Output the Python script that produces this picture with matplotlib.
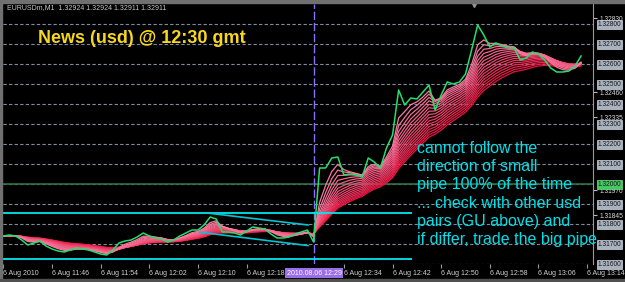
import numpy as np
import pandas as pd
import matplotlib
matplotlib.use("Agg")
import matplotlib.pyplot as plt
from matplotlib.colors import to_rgb
from matplotlib.transforms import blended_transform_factory

# EURUSD M1, минуты от 11:38 (6 Aug 2010), цена закрытия (зелёная линия)
price = [
    1.31740, 1.31745, 1.31740, 1.31720, 1.31695, 1.31705, 1.31715, 1.31690,
    1.31675, 1.31665, 1.31660, 1.31670, 1.31680, 1.31675, 1.31670, 1.31660,
    1.31650, 1.31645, 1.31670, 1.31705, 1.31715, 1.31720, 1.31735, 1.31755,
    1.31740, 1.31730, 1.31725, 1.31710, 1.31720, 1.31740, 1.31755, 1.31770,
    1.31770, 1.31795, 1.31835, 1.31825, 1.31760, 1.31760, 1.31755, 1.31745,
    1.31765, 1.31785, 1.31780, 1.31775, 1.31750, 1.31730, 1.31730, 1.31735,
    1.31750, 1.31760, 1.31770, 1.31710, 1.32080, 1.32080, 1.32130, 1.32135,
    1.32045, 1.32050, 1.32045, 1.32035, 1.32130, 1.32110, 1.32080, 1.32180,
    1.32245, 1.32470, 1.32395, 1.32430, 1.32425, 1.32460, 1.32495, 1.32370,
    1.32445, 1.32510, 1.32500, 1.32510, 1.32550, 1.32670, 1.32795, 1.32745,
    1.32685, 1.32705, 1.32690, 1.32680, 1.32680, 1.32620, 1.32630, 1.32660,
    1.32650, 1.32620, 1.32580, 1.32560, 1.32560, 1.32565, 1.32590, 1.32640,
]
minutes = np.arange(len(price))

# периоды веера скользящих средних
ema_periods = [3, 4, 5, 6, 7, 8, 9, 10, 11, 12, 13, 14, 15, 16, 17, 18]

grid_levels = [1.32800, 1.32700, 1.32600, 1.32500, 1.32400, 1.32300, 1.32200,
               1.32100, 1.32000, 1.31900, 1.31800, 1.31700, 1.31600]
green_level = 1.32000
# видимые (не закрытые плашками) деления шкалы
scale_ticks = [1.32830, 1.32460, 1.32335, 1.31970, 1.31845]

time_ticks = [0, 8, 16, 24, 32, 40, 56, 64, 72, 80, 88, 96]
time_labels = ["6 Aug 2010", "6 Aug 11:46", "6 Aug 11:54", "6 Aug 12:02",
               "6 Aug 12:10", "6 Aug 12:18", "6 Aug 12:34", "6 Aug 12:42",
               "6 Aug 12:50", "6 Aug 12:58", "6 Aug 13:06", "6 Aug 13:14"]
news_minute = 51
news_label = "2010.08.06 12:29"
shift_minute = 77.4

# горизонтальные и наклонные линии (cyan)
support_levels = [1.31855, 1.31625]
support_end = 67.2
trend_lines = [(34.0, 1.31853, 50.1, 1.31795), (32.3, 1.31759, 50.1, 1.31692)]

header = "EURUSDm,M1  1.32924 1.32924 1.32911 1.32911"
title = "News (usd) @ 12:30 gmt"
note_lines = ["cannot follow the", "direction of small", "pipe 100% of the time",
              "... check with other usd", "pairs (GU above) and",
              "if differ, trade the big pipe"]

W, H = 625, 282
fig = plt.figure(figsize=(W / 100, H / 100), dpi=100, facecolor="black")
ax = fig.add_axes([3 / W, 18 / H, 590 / W, 260 / H], facecolor="black")
ax.set_xlim(-0.07, 96.97)
ax.set_ylim(1.31600, 1.32900)

for s in ["top", "left", "bottom"]:
    ax.spines[s].set_visible(False)
ax.spines["right"].set_color("#9a9a9a")

# сетка
ax.hlines(grid_levels, -0.07, 96.97, colors="#7f8ca0", linewidth=0.8,
          linestyles=(0, (3, 2)), zorder=1)
ax.axhline(green_level, color="#2d7045", linewidth=1.2, zorder=1.5)

# вертикальная линия новости
ax.axvline(news_minute, color="#8a70ff", linewidth=1, dashes=(6, 2), zorder=2)

# веер EMA
c_fast = np.array(to_rgb("#f77aa0"))
c_slow = np.array(to_rgb("#e8123e"))
s = pd.Series(price)
for i, p in reversed(list(enumerate(ema_periods))):
    t = i / (len(ema_periods) - 1)
    col = c_fast * (1 - t) + c_slow * t
    ax.plot(minutes, s.ewm(span=p, adjust=False).mean(), color=col,
            linewidth=0.9, zorder=3 + (len(ema_periods) - i) * 0.01)

# цена
ax.plot(minutes, price, color="#22e06a", linewidth=1.1, zorder=6)

# линии поддержки / тренда
for lvl in support_levels:
    ax.hlines(lvl, -0.07, support_end, colors="#00e6f0", linewidth=1.3, zorder=5)
for x0, y0, x1, y1 in trend_lines:
    ax.plot([x0, x1], [y0, y1], color="#00c4d0", linewidth=1.2, zorder=5)

ax.plot(shift_minute, 1.32900, marker="v", color="#8c96a4", markersize=5,
        clip_on=False, zorder=7)

# ось времени
ax.set_xticks(time_ticks)
ax.set_xticklabels(time_labels, ha="left", fontsize=5, color="#d0d0d0",
                   family="Liberation Sans")
ax.tick_params(axis="x", direction="out", length=3, width=0.8, color="#9a9a9a", pad=1)
trans_x = blended_transform_factory(ax.transData, ax.transAxes)
ax.text(news_minute + 0.1, -0.035, news_label, transform=trans_x, ha="center",
        va="center", fontsize=5, color="white", family="Liberation Sans",
        bbox=dict(boxstyle="square,pad=0.2", fc="#9a6ee8", ec="none"), zorder=8)

# шкала цен справа
ax.yaxis.tick_right()
ax.set_yticks(scale_ticks)
ax.set_yticklabels([f"{v:.5f}" for v in scale_ticks], fontsize=4.8,
                   color="#d8d8d8", family="Liberation Sans")
ax.tick_params(axis="y", direction="out", length=3, width=0.8, color="#bbbbbb", pad=1.5)
trans_y = blended_transform_factory(ax.transAxes, ax.transData)
for lvl in grid_levels:
    green = abs(lvl - green_level) < 1e-9
    ax.text(1.0075, lvl - 0.00003, f"{lvl:.5f}", transform=trans_y, ha="left",
            va="center", fontsize=4.8, color="#1a1a1a", family="Liberation Sans",
            clip_on=False,
            bbox=dict(boxstyle="square,pad=0.12",
                      fc="#44c860" if green else "#a9b3c0",
                      ec="#d0d8e0" if not green else "#70e090", lw=0.5),
            zorder=9)

# подписи
fig.text(7 / W, 1 - 8 / H, header, fontsize=5, color="#c8c8c8",
         family="Liberation Sans", va="center")
fig.text(38 / W, 1 - 42.7 / H, title, fontsize=13, fontweight="bold",
         color="#f8d81c", family="Liberation Sans", va="baseline")
for i, line in enumerate(note_lines):
    fig.text(417 / W, 1 - (153 + 18.2 * i) / H, line, fontsize=11.5,
             color="#00e0e8", family="Liberation Sans", va="baseline")

# рамка окна
fig.patches.append(plt.Rectangle((0, 1 - 3 / H), 1, 3 / H, transform=fig.transFigure,
                                 color="#707070", zorder=0))
fig.patches.append(plt.Rectangle((0, 0), 2 / W, 1, transform=fig.transFigure,
                                 color="#707070", zorder=0))
fig.patches.append(plt.Rectangle((0, 0), 1, 3 / H, transform=fig.transFigure,
                                 color="#505050", zorder=0))

fig.savefig("out.png", dpi=100, facecolor="black")
